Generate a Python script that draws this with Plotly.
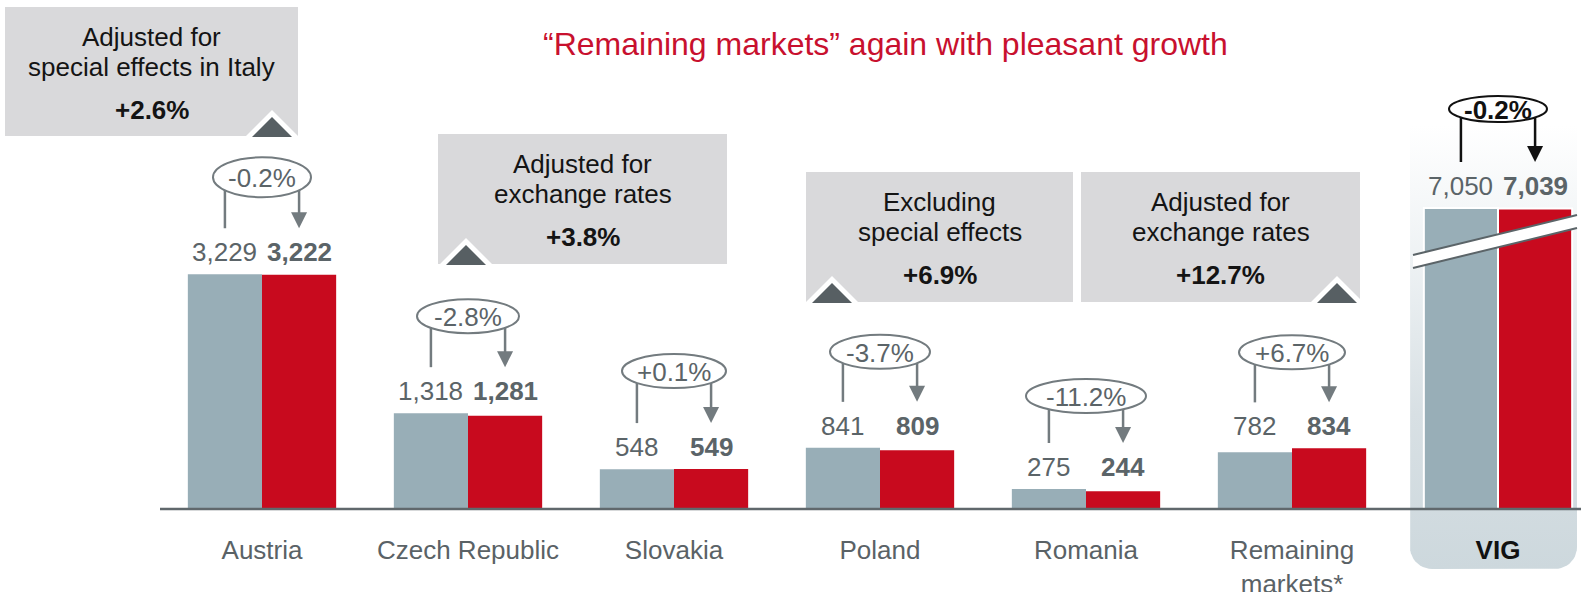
import plotly.graph_objects as go
import numpy as np

# ---------------- data ----------------
categories = ["Austria", "Czech Republic", "Slovakia", "Poland", "Romania",
              "Remaining<br>markets*", "VIG"]
prev_year = [3229, 1318, 548, 841, 275, 782, 7050]
curr_year = [3222, 1281, 549, 809, 244, 834, 7039]
change_labels = ["-0.2%", "-2.8%", "+0.1%", "-3.7%", "-11.2%", "+6.7%", "-0.2%"]
note_lines = [["Adjusted for", "special effects in Italy"],
              ["Adjusted for", "exchange rates"],
              ["Excluding", "special effects"],
              ["Adjusted for", "exchange rates"]]
note_values = ["+2.6%", "+3.8%", "+6.9%", "+12.7%"]
title_text = "“Remaining markets” again with pleasant growth"

# ---------------- styling / layout ----------------
W, H = 1581, 592
FONT = "Liberation Sans, Arial, sans-serif"
GRAY_BAR = "#98aeb7"
RED_BAR = "#c80a1e"
TXT_GRAY = "#5b6468"
LINE_GRAY = "#737b7f"
BOX_FILL = "#d9d9db"
TRI_DARK = "#575f63"

X0_PX, STEP = 262, 206          # pixel of first category, pixels per category
BASE_PX = 509                   # baseline pixel
S1 = 0.0727                     # px per unit (main axis)
VIG_TOP_PX = 208                # broken axis for the total
S2 = (BASE_PX - VIG_TOP_PX) / max(prev_year[-1], curr_year[-1])
BW = 0.36                       # bar width in category units

xr = [-X0_PX / STEP, (W - X0_PX) / STEP]
yr1 = [-(H - BASE_PX) / S1, BASE_PX / S1]
yr2 = [-(H - BASE_PX) / S2, BASE_PX / S2]

def px_x(p):   # pixel -> x data
    return (p - X0_PX) / STEP
def px_y(p):   # pixel -> y data (main axis)
    return (BASE_PX - p) / S1
def paper_x(p):
    return p / W
def paper_y(p):
    return 1 - p / H

n_main = len(categories) - 1
idx = list(range(len(categories)))

fig = go.Figure()

# VIG background panel (rounded bottom, vertical gradient)
pl, pr, ptop, pbot, rad = 1410, 1577, 125, 569, 22
t = np.linspace(0, np.pi / 2, 12)
xs = [pl] + list(pl + rad - rad * np.cos(t)) + list(pr - rad + rad * np.sin(t)) + [pr, pl]
ys = [ptop] + list(pbot - rad + rad * np.sin(t)) + list(pbot - rad + rad * np.cos(t)) + [ptop, ptop]
fig.add_trace(go.Scatter(
    x=[px_x(v) for v in xs], y=[px_y(v) for v in ys], mode="lines",
    fill="toself", line=dict(width=0, color="rgba(0,0,0,0)"),
    fillgradient=dict(type="vertical",
                      colorscale=[[0, "#cdd8dd"], [0.35, "#d8e0e4"],
                                  [0.7, "#eef2f4"], [1, "#ffffff"]]),
    hoverinfo="skip", showlegend=False))

# main bars
fig.add_trace(go.Bar(x=idx[:n_main], y=prev_year[:n_main], offset=-BW, width=BW,
                     marker=dict(color=GRAY_BAR, line=dict(width=0)),
                     name="Previous year", hoverinfo="skip"))
fig.add_trace(go.Bar(x=idx[:n_main], y=curr_year[:n_main], offset=0, width=BW,
                     marker=dict(color=RED_BAR, line=dict(width=0)),
                     name="Current year", hoverinfo="skip"))
# total (broken axis)
fig.add_trace(go.Bar(x=idx[n_main:], y=prev_year[n_main:], offset=-BW, width=BW,
                     marker=dict(color=GRAY_BAR, line=dict(width=2, color="white")),
                     xaxis="x2", yaxis="y2", name="Previous year", hoverinfo="skip"))
fig.add_trace(go.Bar(x=idx[n_main:], y=curr_year[n_main:], offset=0, width=BW,
                     marker=dict(color=RED_BAR, line=dict(width=2, color="white")),
                     xaxis="x2", yaxis="y2", name="Current year", hoverinfo="skip"))

shapes = []
annotations = []

# baseline
shapes.append(dict(type="line", xref="paper", yref="paper",
                   x0=paper_x(160), x1=1, y0=paper_y(BASE_PX), y1=paper_y(BASE_PX),
                   line=dict(color="#60686c", width=2.5), layer="above"))

# break band on the total bars
bx0, bx1 = 1413, 1577
up0, up1, lo0, lo1 = 255, 215, 268, 228
shapes.append(dict(type="path", xref="paper", yref="paper",
                   path=f"M{paper_x(bx0)},{paper_y(up0)} L{paper_x(bx1)},{paper_y(up1)} "
                        f"L{paper_x(bx1)},{paper_y(lo1)} L{paper_x(bx0)},{paper_y(lo0)} Z",
                   fillcolor="white", line=dict(width=0), layer="above"))
for a, b in [(up0, up1), (lo0, lo1)]:
    shapes.append(dict(type="line", xref="paper", yref="paper",
                       x0=paper_x(bx0), x1=paper_x(bx1), y0=paper_y(a), y1=paper_y(b),
                       line=dict(color="#5b6468", width=2), layer="above"))

# note boxes
boxes = [(5, 7, 298, 136, 272), (438, 134, 727, 264, 466),
         (806, 172, 1073, 302, 832), (1081, 172, 1360, 302, 1337)]
for (x0, y0, x1, y1, ax), lines, val in zip(boxes, note_lines, note_values):
    shapes.append(dict(type="rect", xref="paper", yref="paper",
                       x0=paper_x(x0), x1=paper_x(x1), y0=paper_y(y0), y1=paper_y(y1),
                       fillcolor=BOX_FILL, line=dict(width=0), layer="above"))
    shapes.append(dict(type="path", xref="paper", yref="paper",
                       path=f"M{paper_x(ax-27)},{paper_y(y1+1)} L{paper_x(ax)},{paper_y(y1-26)} "
                            f"L{paper_x(ax+27)},{paper_y(y1+1)} Z",
                       fillcolor="white", line=dict(width=0), layer="above"))
    shapes.append(dict(type="path", xref="paper", yref="paper",
                       path=f"M{paper_x(ax-20)},{paper_y(y1+1)} L{paper_x(ax)},{paper_y(y1-19)} "
                            f"L{paper_x(ax+20)},{paper_y(y1+1)} Z",
                       fillcolor=TRI_DARK, line=dict(width=0), layer="above"))
    cx = (x0 + x1) / 2
    for k, (txt, off) in enumerate(zip(lines + [f"<b>{val}</b>"], [30, 60, 103])):
        annotations.append(dict(xref="paper", yref="paper", x=paper_x(cx), y=paper_y(y0 + off),
                                text=txt, showarrow=False, xanchor="center", yanchor="middle",
                                font=dict(family=FONT, size=26, color="#141414")))

# title
annotations.append(dict(xref="paper", yref="paper", x=paper_x(885), y=paper_y(44),
                        text=title_text, showarrow=False, xanchor="center", yanchor="middle",
                        font=dict(family=FONT, size=32, color="#c8102e")))

# per-category value labels, change ellipses and arrows
ell_rx = [49, 51, 52, 50, 60, 53, 49]
ell_ry = [20, 17, 17, 17, 17, 17, 13]
ell_c = [97, 97, 98, 96, 93, 96, 99]
DX = BW / 2 * STEP
for i in idx:
    vig = i == len(idx) - 1
    yref = "y2" if vig else "y"
    top = max(prev_year[i], curr_year[i])
    col = "#111111" if vig else LINE_GRAY
    ctext = "#111111" if vig else TXT_GRAY
    c, rx, ry = ell_c[i], ell_rx[i], ell_ry[i]
    common = dict(xref="x", xsizemode="pixel", xanchor=i,
                  yref=yref, ysizemode="pixel", yanchor=top, layer="above")
    # left line (from ellipse to tip level)
    shapes.append(dict(type="line", x0=-DX, x1=-DX, y0=c, y1=46,
                       line=dict(color=col, width=2.5), **common))
    # right line + arrowhead
    shapes.append(dict(type="line", x0=DX, x1=DX, y0=c, y1=61,
                       line=dict(color=col, width=2.5), **common))
    shapes.append(dict(type="path",
                       path=f"M{DX-8},{62} L{DX+8},{62} L{DX},{46} Z",
                       fillcolor=col, line=dict(width=0), **common))
    # ellipse
    shapes.append(dict(type="circle", x0=-rx, x1=rx, y0=c - ry, y1=c + ry,
                       fillcolor="white", line=dict(color=col, width=2), **common))
    txt = f"<b>{change_labels[i]}</b>" if vig else change_labels[i]
    annotations.append(dict(xref="x", yref=yref, x=i, y=top, yshift=c - 1,
                            text=txt, showarrow=False, xanchor="center", yanchor="middle",
                            font=dict(family=FONT, size=26, color=ctext)))
    annotations.append(dict(xref="x", yref=yref, x=i - BW / 2, y=top, yshift=22,
                            text=f"{prev_year[i]:,}", showarrow=False,
                            xanchor="center", yanchor="middle",
                            font=dict(family=FONT, size=26, color=TXT_GRAY)))
    annotations.append(dict(xref="x", yref=yref, x=i + BW / 2, y=top, yshift=22,
                            text=f"<b>{curr_year[i]:,}</b>", showarrow=False,
                            xanchor="center", yanchor="middle",
                            font=dict(family=FONT, size=26, color=TXT_GRAY)))

ticktext = categories[:-1] + [f'<span style="color:#111111"><b>{categories[-1]}</b></span>']

fig.update_layout(
    width=W, height=H, margin=dict(l=0, r=0, t=0, b=0, autoexpand=False),
    paper_bgcolor="white", plot_bgcolor="rgba(0,0,0,0)",
    showlegend=False, barmode="overlay",
    xaxis=dict(range=xr, tickvals=idx, ticktext=ticktext, showgrid=False,
               zeroline=False, showline=False, ticks="", anchor="free",
               position=(H - BASE_PX) / H, ticklabelstandoff=23, automargin=False,
               tickfont=dict(family=FONT, size=26, color="#5a6266"), fixedrange=True),
    yaxis=dict(range=yr1, visible=False, fixedrange=True, automargin=False),
    xaxis2=dict(range=xr, overlaying="x", visible=False, anchor="y2", fixedrange=True),
    yaxis2=dict(range=yr2, overlaying="y", visible=False, fixedrange=True),
    shapes=shapes, annotations=annotations,
)

fig.write_html("out.html", config={"displayModeBar": False},
               post_script="document.body.style.margin='0';")
